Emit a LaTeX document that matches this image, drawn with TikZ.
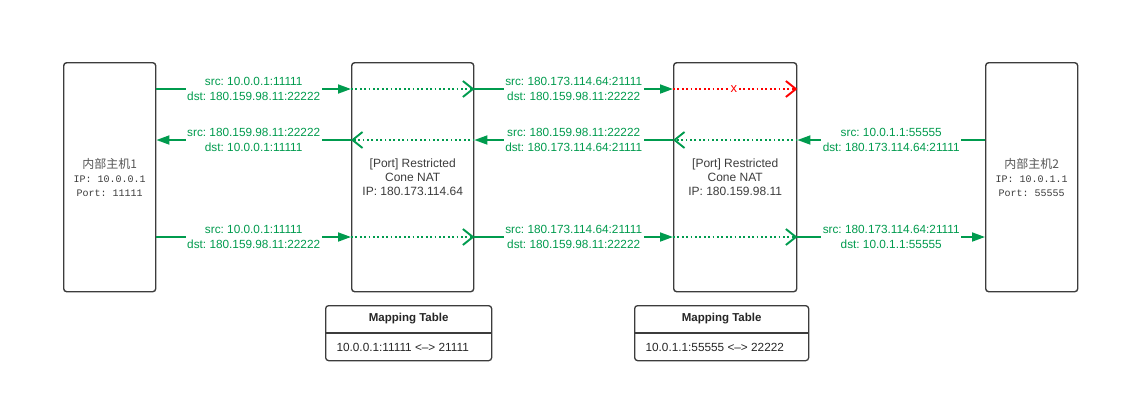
\documentclass[tikz,border=0pt]{standalone}
\usepackage{fontspec}
\setmainfont{Liberation Sans}
\newfontfamily\cjk{Noto Sans CJK SC}
\newfontfamily\hmono{Liberation Mono}
\usetikzlibrary{arrows.meta}
\definecolor{grn}{RGB}{0,155,78}
\definecolor{edgec}{RGB}{60,60,60}
\definecolor{txtc}{RGB}{60,60,60}
\definecolor{hostc}{RGB}{85,85,85}
\frenchspacing
\begin{document}
\begin{tikzpicture}[x=1pt,y=-1pt,
  box/.style={draw=edgec, line width=1.4pt, rounded corners=3pt, inner sep=0pt, anchor=north west, align=center, text=txtc, font=\fontsize{12}{14}\selectfont},
  lbl/.style={fill=white, text=grn, font=\fontsize{11.8}{14.5}\selectfont, align=center, inner sep=1.5pt},
  sol/.style={draw=grn, line width=1.8pt, -{Triangle[length=13pt,width=9pt]}},
  dotg/.style={draw=grn, line width=1.8pt, dash pattern=on 1.8pt off 2.6pt, -{Straight Barb[length=10pt,width=16pt,line width=1.9pt]}},
  dotr/.style={draw=red, line width=1.8pt, dash pattern=on 1.8pt off 2.6pt, -{Straight Barb[length=10pt,width=16pt,line width=1.9pt]}},
]
\useasboundingbox (0,0) rectangle (1125,408);

% rows
\coordinate (r1) at (0,89);
\coordinate (r2) at (0,140);
\coordinate (r3) at (0,237);

% boxes
\node[box, minimum width=92pt, minimum height=229pt] (h1) at (63,62)
  {\fontsize{12}{14.5}\selectfont\color{hostc}{\cjk 内部主机1}\\{\hmono\fontsize{10}{14.5}\selectfont IP: 10.0.0.1}\\{\hmono\fontsize{10}{14.5}\selectfont Port: 11111}};
\node[box, minimum width=122pt, minimum height=229pt] (n1) at (351,62)
  {[Port] Restricted\\Cone NAT\\IP: 180.173.114.64};
\node[box, minimum width=123pt, minimum height=229pt] (n2) at (673,62)
  {[Port] Restricted\\Cone NAT\\IP: 180.159.98.11};
\node[box, minimum width=92pt, minimum height=229pt] (h2) at (985,62)
  {\fontsize{12}{14.5}\selectfont\color{hostc}{\cjk 内部主机2}\\{\hmono\fontsize{10}{14.5}\selectfont IP: 10.0.1.1}\\{\hmono\fontsize{10}{14.5}\selectfont Port: 55555}};

% row 1
\draw[sol] (h1.east |- r1) -- node[lbl] {src: 10.0.0.1:11111\\dst: 180.159.98.11:22222} (n1.west |- r1);
\draw[dotg] (n1.west |- r1) -- (n1.east |- r1);
\draw[sol] (n1.east |- r1) -- node[lbl] {src: 180.173.114.64:21111\\dst: 180.159.98.11:22222} (n2.west |- r1);
\draw[dotr] (n2.west |- r1) -- node[fill=white, text=red, inner sep=0.5pt, font=\fontsize{13}{13}\selectfont, pos=0.49] (xm) {x} (n2.east |- r1);

% row 2
\draw[sol] (h2.west |- r2) -- node[lbl] {src: 10.0.1.1:55555\\dst: 180.173.114.64:21111} (n2.east |- r2);
\draw[dotg] (n2.east |- r2) -- (n2.west |- r2);
\draw[sol] (n2.west |- r2) -- node[lbl] {src: 180.159.98.11:22222\\dst: 180.173.114.64:21111} (n1.east |- r2);
\draw[dotg] (n1.east |- r2) -- (n1.west |- r2);
\draw[sol] (n1.west |- r2) -- node[lbl] {src: 180.159.98.11:22222\\dst: 10.0.0.1:11111} (h1.east |- r2);

% row 3
\draw[sol] (h1.east |- r3) -- node[lbl] {src: 10.0.0.1:11111\\dst: 180.159.98.11:22222} (n1.west |- r3);
\draw[dotg] (n1.west |- r3) -- (n1.east |- r3);
\draw[sol] (n1.east |- r3) -- node[lbl] {src: 180.173.114.64:21111\\dst: 180.159.98.11:22222} (n2.west |- r3);
\draw[dotg] (n2.west |- r3) -- (n2.east |- r3);
\draw[sol] (n2.east |- r3) -- node[lbl] {src: 180.173.114.64:21111\\dst: 10.0.1.1:55555} (h2.west |- r3);

% mapping tables
\node[draw=edgec, line width=1.3pt, rounded corners=3pt, anchor=north west, minimum width=166pt, minimum height=55pt, inner sep=0pt] (m1) at (325,305) {};
\draw[edgec, line width=1.3pt] (m1.west |- 0,333) -- (m1.east |- 0,333);
\node[font=\bfseries\fontsize{11.5}{13}\selectfont, text=black!85] (m1h) at (m1.north |- 0,319) {Mapping Table};
\node[font=\fontsize{11.8}{13}\selectfont, text=black!85, anchor=west] (m1b) at (m1.west |- 0,347.5) {\hspace{8pt}10.0.0.1:11111 <–> 21111};

\node[draw=edgec, line width=1.3pt, rounded corners=3pt, anchor=north west, minimum width=174pt, minimum height=55pt, inner sep=0pt] (m2) at (634,305) {};
\draw[edgec, line width=1.3pt] (m2.west |- 0,333) -- (m2.east |- 0,333);
\node[font=\bfseries\fontsize{11.5}{13}\selectfont, text=black!85] (m2h) at (m2.north |- 0,319) {Mapping Table};
\node[font=\fontsize{11.8}{13}\selectfont, text=black!85, anchor=west] (m2b) at (m2.west |- 0,347.5) {\hspace{8pt}10.0.1.1:55555 <–> 22222};
\end{tikzpicture}
\end{document}
